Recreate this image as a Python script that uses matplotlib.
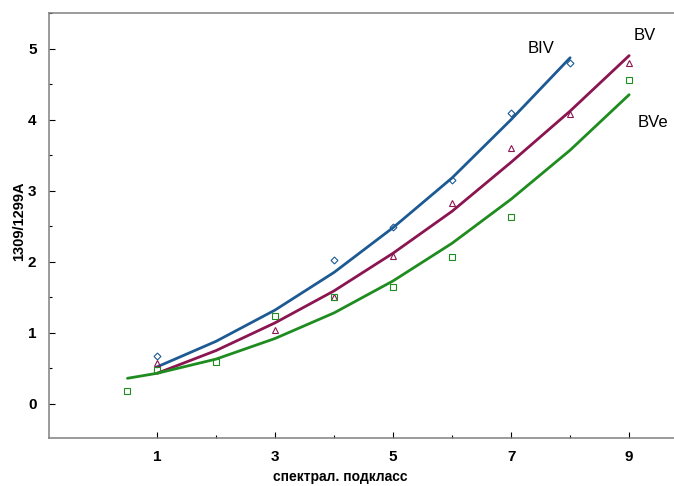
import matplotlib
matplotlib.use("Agg")
import matplotlib.pyplot as plt
from matplotlib.ticker import MultipleLocator

plt.rcParams['font.family'] = ['Liberation Sans', 'DejaVu Sans']

# measured points
biv_x = [1, 4, 5, 6, 7, 8]
biv_y = [0.67, 2.02, 2.49, 3.15, 4.09, 4.79]
bv_x = [1, 3, 4, 5, 6, 7, 8, 9]
bv_y = [0.57, 1.04, 1.50, 2.08, 2.82, 3.60, 4.08, 4.80]
bve_x = [0.5, 1, 2, 3, 4, 5, 6, 7, 9]
bve_y = [0.18, 0.48, 0.59, 1.24, 1.50, 1.64, 2.06, 2.63, 4.56]

# fitted curves
biv_fit_x = [1, 2, 3, 4, 5, 6, 7, 8]
biv_fit_y = [0.52, 0.88, 1.32, 1.85, 2.48, 3.18, 4.00, 4.87]
bv_fit_x = [1, 2, 3, 4, 5, 6, 7, 8, 9]
bv_fit_y = [0.43, 0.75, 1.14, 1.59, 2.12, 2.71, 3.40, 4.12, 4.90]
bve_fit_x = [0.5, 1, 2, 3, 4, 5, 6, 7, 8, 9]
bve_fit_y = [0.36, 0.43, 0.63, 0.92, 1.28, 1.73, 2.26, 2.88, 3.57, 4.35]

c_biv = '#1d5a94'
c_bv = '#8a1550'
c_bve = '#1f8c1f'

fig = plt.figure(figsize=(6.74, 4.86), dpi=100)
ax = fig.add_axes([0.0727, 0.0988, 0.9273, 0.8745])

ax.plot(biv_fit_x, biv_fit_y, color=c_biv, lw=2.0, solid_capstyle='round')
ax.plot(bv_fit_x, bv_fit_y, color=c_bv, lw=2.0, solid_capstyle='round')
ax.plot(bve_fit_x, bve_fit_y, color=c_bve, lw=2.0, solid_capstyle='round')

ax.plot(biv_x, biv_y, 'D', mfc='none', mec=c_biv, ms=3.5, mew=0.8)
ax.plot(bv_x, bv_y, '^', mfc='none', mec=c_bv, ms=4.5, mew=0.8)
ax.plot(bve_x, bve_y, 's', mfc='none', mec=c_bve, ms=4.5, mew=0.8)

ax.text(7.5, 5.0, 'BIV', fontsize=12, ha='center', va='center')
ax.text(9.27, 5.18, 'BV', fontsize=12, ha='center', va='center')
ax.text(9.4, 3.96, 'BVe', fontsize=12, ha='center', va='center')

ax.set_xlim(-0.83, 9.76)
ax.set_ylim(-0.48, 5.5)
ax.set_xticks([1, 3, 5, 7, 9])
ax.set_xticks([2, 4, 6, 8], minor=True)
ax.set_yticks([0, 1, 2, 3, 4, 5])
ax.yaxis.set_minor_locator(MultipleLocator(0.5))

ax.tick_params(which='major', direction='in', length=4, width=0.8,
               labelsize=11, pad=9)
ax.tick_params(which='minor', direction='in', length=2.5, width=0.8)
for lab in ax.get_xticklabels() + ax.get_yticklabels():
    lab.set_fontweight('bold')

for s in ['left', 'bottom', 'top']:
    ax.spines[s].set_color('#808080')
    ax.spines[s].set_linewidth(1.1)
ax.spines['right'].set_visible(False)

ax.set_xlabel('спектрал. подкласс', fontsize=10, fontweight='bold')
ax.xaxis.set_label_coords(0.466, -0.075)
ax.set_ylabel('1309/1299A', fontsize=10.5, fontweight='bold')
ax.yaxis.set_label_coords(-0.036, 0.51)

fig.savefig('out.png', dpi=100)
